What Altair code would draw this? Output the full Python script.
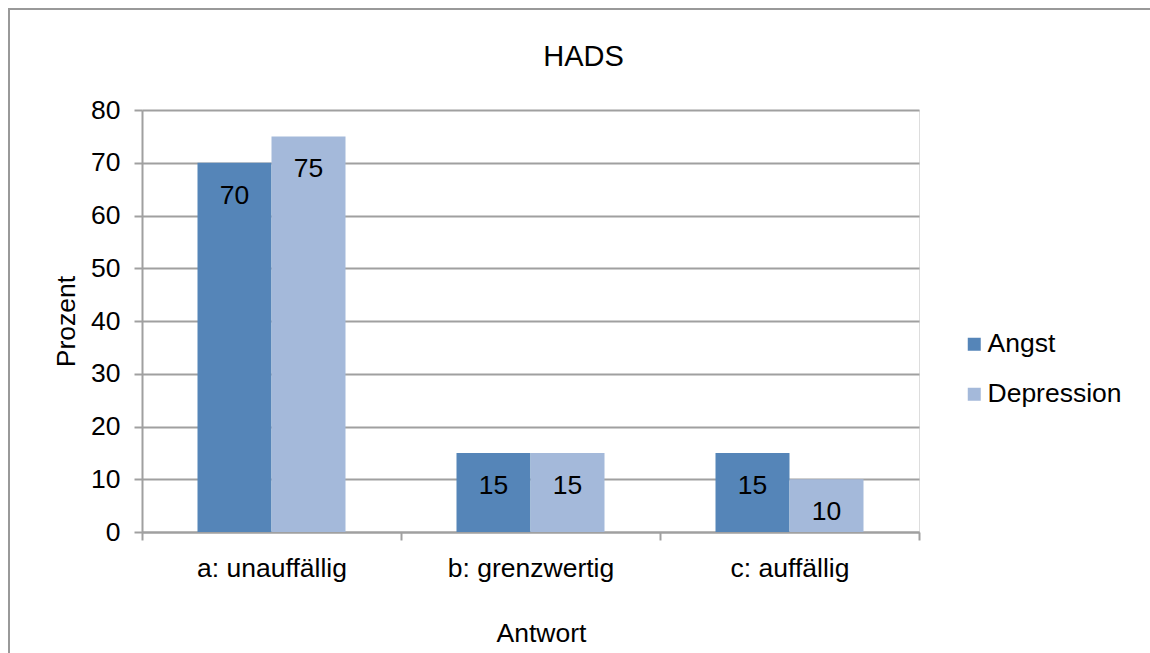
import altair as alt
import pandas as pd

categories = ["a: unauffällig", "b: grenzwertig", "c: auffällig"]
series = ["Angst", "Depression"]
angst = [70, 15, 15]
depression = [75, 15, 10]
y_ticks = [0, 10, 20, 30, 40, 50, 60, 70, 80]
colors = ["#5585B8", "#A4B9DA"]

rows = []
for c, a, d in zip(categories, angst, depression):
    rows.append({"Antwort": c, "Serie": "Angst", "Prozent": a})
    rows.append({"Antwort": c, "Serie": "Depression", "Prozent": d})
df = pd.DataFrame(rows)

FONT = "Liberation Sans"
GRAY = "#a0a0a0"
FS = 26.5

x_enc = alt.X(
    "Antwort:N",
    sort=categories,
    title="Antwort",
    scale=alt.Scale(paddingInner=0, paddingOuter=0),
    axis=alt.Axis(
        labelAngle=0, tickBand="extent", tickSize=8, tickColor=GRAY, tickWidth=2,
        domainColor=GRAY, domainWidth=2, labelPadding=15, labelFontSize=FS,
        labelFont=FONT, labelColor="black", titleFont=FONT, titleFontSize=FS,
        titleFontWeight="normal", titleColor="black", titlePadding=39,
        titleX=399,
    ),
)
xoff_enc = alt.XOffset("Serie:N", sort=series,
                       scale=alt.Scale(paddingInner=0, paddingOuter=0.75))
y_enc = alt.Y(
    "Prozent:Q",
    title="Prozent",
    scale=alt.Scale(domain=[0, 80], nice=False),
    axis=alt.Axis(
        values=y_ticks, grid=True, gridColor=GRAY, gridWidth=2, tickSize=8,
        tickColor=GRAY, tickWidth=2, domainColor=GRAY, domainWidth=2,
        labelPadding=14, labelFontSize=FS, labelFont=FONT, labelColor="black",
        titleFont=FONT, titleFontSize=FS, titleFontWeight="normal",
        titleColor="black", titlePadding=10,
    ),
)

bars = alt.Chart(df).mark_bar().encode(
    x=x_enc,
    xOffset=xoff_enc,
    y=y_enc,
    color=alt.Color(
        "Serie:N",
        sort=series,
        scale=alt.Scale(domain=series, range=colors),
        legend=alt.Legend(
            title=None, orient="none", legendX=819, legendY=221,
            symbolType="square", symbolSize=169, symbolStrokeWidth=0,
            labelFont=FONT, labelFontSize=FS, labelColor="black",
            labelOffset=0, rowPadding=23,
        ),
    ),
)

labels = alt.Chart(df).mark_text(
    font=FONT, fontSize=FS, color="black", baseline="middle", dy=33
).encode(
    x=alt.X("Antwort:N", sort=categories),
    xOffset=alt.XOffset("Serie:N", sort=series),
    y=alt.Y("Prozent:Q"),
    text=alt.Text("Prozent:Q"),
)

border = alt.Chart(alt.Data(values=[{"k": 1}])).mark_rect(
    fill=None, stroke="#999999", strokeWidth=2
).encode(
    x=alt.value(-133), x2=alt.value(1030),
    y=alt.value(-101), y2=alt.value(560),
)

chart = alt.layer(border, bars, labels).properties(
    width=777,
    height=422,
    padding={"left": 142, "top": 110, "right": 231, "bottom": 121},
    autosize=alt.AutoSizeParams(type="none"),
    title=alt.TitleParams(
        text="HADS", anchor="middle", dx=53, font=FONT, fontSize=29,
        fontWeight="normal", color="black", baseline="alphabetic", offset=0,
        dy=87,
    ),
).configure_view(stroke=None).configure(background="white")

chart.save("out.html", embed_options={"renderer": "svg", "actions": False})
